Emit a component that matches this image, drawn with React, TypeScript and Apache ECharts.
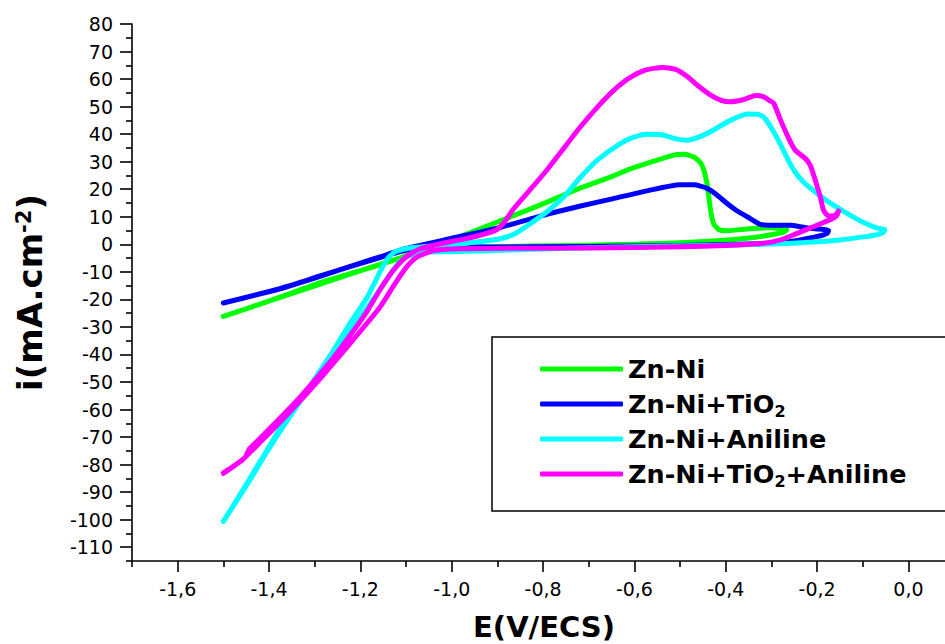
import React, { useEffect, useRef } from "react";
import * as echarts from "echarts";

const FONT = "'DejaVu Sans', 'Liberation Sans', sans-serif";

const seriesNames = ["Zn-Ni", "Zn-Ni+TiO2", "Zn-Ni+Aniline", "Zn-Ni+TiO2+Aniline"];
const seriesColors = ["#00FF00", "#0000FF", "#00FFFF", "#FF00FF"];

const xMajorTicks = [-1.6, -1.4, -1.2, -1.0, -0.8, -0.6, -0.4, -0.2, 0.0];
const xMinorTicks = [-1.7, -1.5, -1.3, -1.1, -0.9, -0.7, -0.5, -0.3, -0.1];
const yMajorTicks = [-110, -100, -90, -80, -70, -60, -50, -40, -30, -20, -10, 0, 10, 20, 30, 40, 50, 60, 70, 80];
const yMinorTicks = [-115, -105, -95, -85, -75, -65, -55, -45, -35, -25, -15, -5, 5, 15, 25, 35, 45, 55, 65, 75];

// E (V/ECS), i (mA.cm-2)
const znNi: [number, number][] = [
  [-1.5, -26.2], [-1.45, -23.4], [-1.376, -19.2], [-1.288, -13.9], [-1.2, -9.6], [-1.157, -7.4],
  [-1.1, -4.2], [-1.05, -1.4], [-1.0, 1.6], [-0.938, 5.6], [-0.865, 10.4], [-0.79, 15.4],
  [-0.719, 20.4], [-0.65, 24.6], [-0.609, 27.4], [-0.55, 30.6], [-0.507, 32.6], [-0.49, 32.7],
  [-0.47, 31.7], [-0.455, 29.5], [-0.448, 26.9], [-0.441, 22], [-0.437, 17], [-0.432, 11],
  [-0.426, 7.3], [-0.415, 5.3], [-0.4, 4.9], [-0.353, 5.6], [-0.3, 6.0], [-0.266, 5.3],
  [-0.275, 4.3], [-0.353, 2.2], [-0.5, 0.6], [-0.7, -0.3], [-0.938, -1.0], [-1.02, -1.6],
  [-1.1, -4.4], [-1.2, -9.6], [-1.376, -19.3], [-1.5, -26.2],
];

const znNiTiO2: [number, number][] = [
  [-1.5, -21.3], [-1.376, -16.1], [-1.288, -11.6], [-1.2, -6.8], [-1.157, -4.6], [-1.106, -1.8],
  [-1.05, 0.3], [-1.0, 2.2], [-0.938, 4.4], [-0.894, 6.1], [-0.792, 10.9], [-0.72, 13.8],
  [-0.646, 16.6], [-0.57, 19.5], [-0.5, 21.6], [-0.47, 21.6], [-0.441, 20.3], [-0.42, 18.0],
  [-0.397, 14.8], [-0.375, 12.1], [-0.353, 10.0], [-0.335, 8.2], [-0.324, 7.2], [-0.29, 6.9],
  [-0.259, 6.9], [-0.23, 6.2], [-0.208, 5.7], [-0.185, 5.4], [-0.175, 5.0], [-0.178, 4.0],
  [-0.19, 3.2], [-0.21, 2.5], [-0.24, 1.5], [-0.28, 0.6], [-0.4, -0.1], [-0.5, -0.4],
  [-0.7, -0.8], [-0.938, -1.0], [-1.02, -1.2], [-1.1, -2.2], [-1.157, -4.8], [-1.288, -11.5],
  [-1.376, -16.2], [-1.5, -21.3],
];

const znNiAniline: [number, number][] = [
  [-1.5, -100.6], [-1.449, -87.5], [-1.405, -75.5], [-1.37, -66.5], [-1.332, -57], [-1.259, -38.5],
  [-1.22, -28], [-1.186, -19.5], [-1.16, -11], [-1.142, -5.5], [-1.125, -2.8], [-1.1, -1.6],
  [-1.069, -1.0], [-1.0, -0.2], [-0.938, 1.0], [-0.894, 2.0], [-0.86, 4], [-0.828, 7.5],
  [-0.79, 12], [-0.755, 17.2], [-0.72, 24], [-0.682, 30.5], [-0.631, 36.6], [-0.6, 39],
  [-0.573, 40], [-0.54, 39.8], [-0.51, 38.3], [-0.485, 37.8], [-0.455, 39.2], [-0.427, 41.5],
  [-0.39, 45], [-0.353, 47.3], [-0.33, 47.2], [-0.317, 46.2], [-0.3, 42.2], [-0.28, 36.2],
  [-0.263, 30.5], [-0.247, 26], [-0.23, 22.6], [-0.21, 19.8], [-0.19, 17.2], [-0.165, 14.3],
  [-0.13, 10.8], [-0.098, 7.9], [-0.07, 6.0], [-0.052, 5.2], [-0.056, 4.2], [-0.075, 3.3],
  [-0.098, 2.7], [-0.15, 1.6], [-0.208, 0.8], [-0.3, 0.1], [-0.427, -0.4], [-0.6, -0.9],
  [-0.8, -1.7], [-0.938, -2.4], [-1.0, -2.7], [-1.05, -2.8], [-1.09, -3.8], [-1.115, -6.5],
  [-1.14, -12], [-1.17, -19.5], [-1.22, -31], [-1.27, -42], [-1.31, -51.5], [-1.34, -58.5],
  [-1.376, -67], [-1.42, -79], [-1.46, -90], [-1.5, -100.6],
];

const znNiTiO2Aniline: [number, number][] = [
  [-1.5, -83.2], [-1.475, -80.3], [-1.452, -77.3], [-1.444, -74.5], [-1.42, -70.5], [-1.38, -63.8],
  [-1.332, -55.5], [-1.259, -41.2], [-1.22, -32.5], [-1.186, -24.5], [-1.157, -16.5], [-1.127, -9.3],
  [-1.1, -4.6], [-1.069, -1.6], [-1.025, 0.2], [-0.985, 1.5], [-0.938, 3.3], [-0.905, 5.0],
  [-0.885, 8.0], [-0.865, 12.8], [-0.83, 19.5], [-0.792, 26.9], [-0.755, 34.8], [-0.719, 42.5],
  [-0.68, 50], [-0.646, 55.8], [-0.61, 60.5], [-0.575, 63.3], [-0.54, 64.2], [-0.51, 63.5],
  [-0.485, 61.0], [-0.46, 57.5], [-0.434, 54.3], [-0.41, 52.3], [-0.39, 51.8], [-0.36, 52.6],
  [-0.335, 54.0], [-0.318, 53.6], [-0.305, 52.3], [-0.295, 51.2], [-0.28, 45.1], [-0.262, 38.4],
  [-0.248, 34.2], [-0.226, 31.2], [-0.215, 28.7], [-0.204, 23.3], [-0.193, 17.2], [-0.186, 12.4],
  [-0.175, 10.3], [-0.162, 10.4], [-0.153, 12.1], [-0.158, 10.2], [-0.168, 9.2], [-0.185, 8.0],
  [-0.208, 6.4], [-0.245, 3.9], [-0.28, 1.6], [-0.317, 0.4], [-0.4, -0.4], [-0.5, -0.9],
  [-0.7, -1.3], [-0.938, -1.5], [-1.0, -1.7], [-1.04, -2.3], [-1.075, -4.5], [-1.1, -8.5],
  [-1.125, -14.5], [-1.142, -19], [-1.16, -23.5], [-1.22, -35.5], [-1.3, -51], [-1.37, -63.5],
  [-1.42, -72], [-1.46, -78.5], [-1.5, -83.0],
];

const seriesData = [znNi, znNiTiO2, znNiAniline, znNiTiO2Aniline];

const legendLabels: Record<string, string> = {
  "Zn-Ni": "{a|Zn-Ni}",
  "Zn-Ni+TiO2": "{a|Zn-Ni+TiO}{s|2}",
  "Zn-Ni+Aniline": "{a|Zn-Ni+Aniline}",
  "Zn-Ni+TiO2+Aniline": "{a|Zn-Ni+TiO}{s|2}{a|+Aniline}",
};

export default function App() {
  const ref = useRef<HTMLDivElement>(null);

  useEffect(() => {
    if (!ref.current) return;
    const chart = echarts.init(ref.current, null, { renderer: "svg" });
    const axisLine = { show: true, onZero: false, lineStyle: { color: "#000", width: 1.6 } };
    const hiddenLine = { show: false, onZero: false };
    const tickLine = { color: "#000", width: 1.6 };

    chart.setOption({
      animation: false,
      backgroundColor: "#ffffff",
      grid: { left: 132, top: 24, right: 0, bottom: 83, containLabel: false, outerBoundsMode: "none" },
      legend: {
        orient: "vertical",
        left: 492,
        top: 337,
        padding: [17, 80, 22, 48],
        itemWidth: 83,
        itemHeight: 5,
        itemGap: 5,
        itemTextGap: 8,
        icon: "roundRect",
        borderColor: "#000",
        borderWidth: 1.5,
        data: seriesNames,
        formatter: (name: string) => legendLabels[name] || name,
        textStyle: {
          color: "#000",
          lineHeight: 30,
          rich: {
            a: { fontFamily: FONT, fontWeight: "bold", fontSize: 25.5, lineHeight: 30, color: "#000" },
            s: { fontFamily: FONT, fontWeight: "bold", fontSize: 16, lineHeight: 2, verticalAlign: "bottom", color: "#000" },
          },
        },
      },
      xAxis: [
        {
          type: "value",
          min: -1.7,
          max: 0.08,
          position: "bottom",
          axisLine,
          axisTick: { show: true, inside: false, customValues: xMajorTicks, length: 11, lineStyle: tickLine },
          axisLabel: {
            customValues: xMajorTicks,
            formatter: (v: number) => v.toFixed(1).replace(".", ","),
            fontFamily: FONT,
            fontSize: 19,
            color: "#000",
            margin: 18,
          },
          splitLine: { show: false },
          name: "E(V/ECS)",
          nameLocation: "middle",
          nameGap: 51,
          nameTextStyle: {
            fontFamily: FONT,
            fontWeight: "bold",
            fontSize: 29,
            lineHeight: 30,
            color: "#000",
            padding: [0, 0, 0, 11],
          },
        },
        {
          type: "value",
          min: -1.7,
          max: 0.08,
          position: "bottom",
          axisLine: hiddenLine,
          axisTick: { show: true, inside: false, customValues: xMinorTicks, length: 6, lineStyle: tickLine },
          axisLabel: { show: false },
          splitLine: { show: false },
        },
      ],
      yAxis: [
        {
          type: "value",
          min: -115,
          max: 80,
          position: "left",
          axisLine,
          axisTick: { show: true, inside: false, customValues: yMajorTicks, length: 12, lineStyle: tickLine },
          axisLabel: { customValues: yMajorTicks, fontFamily: FONT, fontSize: 19, color: "#000", margin: 19 },
          splitLine: { show: false },
          name: "{a|i(mA.cm}{s|-2}{a|)}",
          nameLocation: "middle",
          nameRotate: 90,
          nameGap: 85,
          nameTextStyle: {
            rich: {
              a: { fontFamily: FONT, fontWeight: "bold", fontSize: 34, lineHeight: 34, color: "#000" },
              s: { fontFamily: FONT, fontWeight: "bold", fontSize: 21, lineHeight: 6, verticalAlign: "top", color: "#000" },
            },
          },
        },
        {
          type: "value",
          min: -115,
          max: 80,
          position: "left",
          axisLine: hiddenLine,
          axisTick: { show: true, inside: false, customValues: yMinorTicks, length: 6, lineStyle: tickLine },
          axisLabel: { show: false },
          splitLine: { show: false },
        },
      ],
      series: seriesNames.map((name, i) => ({
        name,
        type: "line",
        xAxisIndex: 0,
        yAxisIndex: 0,
        data: seriesData[i],
        showSymbol: false,
        symbol: "none",
        smooth: 0.2,
        color: seriesColors[i],
        lineStyle: { width: 5, color: seriesColors[i], cap: "round", join: "round" },
      })),
    });
    return () => chart.dispose();
  }, []);

  return (
    <div
      ref={ref}
      style={{ position: "fixed", left: 0, top: 0, width: 945, height: 644, background: "#fff" }}
    />
  );
}
